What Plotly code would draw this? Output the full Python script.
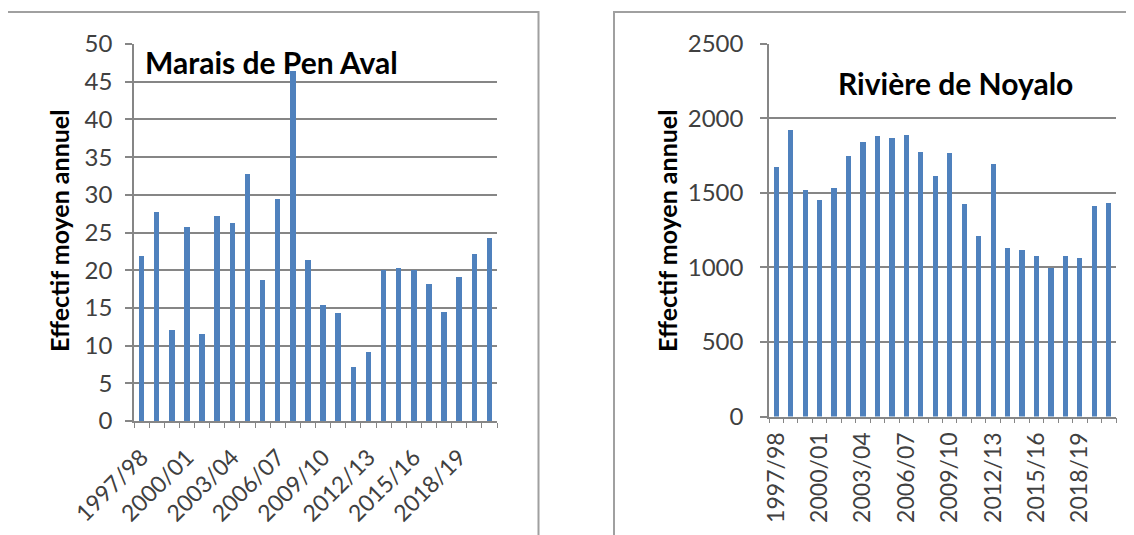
import plotly.graph_objects as go

### DATA ###
seasons = ["1997/98", "1998/99", "1999/00", "2000/01", "2001/02", "2002/03",
           "2003/04", "2004/05", "2005/06", "2006/07", "2007/08", "2008/09",
           "2009/10", "2010/11", "2011/12", "2012/13", "2013/14", "2014/15",
           "2015/16", "2016/17", "2017/18", "2018/19", "2019/20", "2020/21"]

pen_aval = [21.9, 27.7, 12.1, 25.7, 11.5, 27.2, 26.2, 32.8, 18.7, 29.5, 46.4, 21.3,
            15.4, 14.3, 7.1, 9.2, 20.0, 20.3, 20.0, 18.2, 14.4, 19.1, 22.2, 24.3]

noyalo = [1676, 1923, 1522, 1454, 1534, 1747, 1841, 1882, 1870, 1889, 1779, 1614,
          1772, 1426, 1213, 1694, 1133, 1122, 1076, 996, 1081, 1065, 1413, 1435]

label_every = 3
y_title = "Effectif moyen annuel"

### STYLE ###
BAR_COLOR = "#4F81BD"
GRID_COLOR = "#868686"
TICK_FONT_COLOR = "#404040"
FONT = "Lato"
PAGE_OFFSET = 8  # default body margin of the html page
W, H = 1134 - PAGE_OFFSET, 535 - PAGE_OFFSET


# helpers: page pixel -> paper fraction
def px_x(p):
    return (p - PAGE_OFFSET) / W


def px_y(p):
    return 1 - (p - PAGE_OFFSET) / H


positions = list(range(len(seasons)))
tickvals = positions[::label_every]
ticktext = seasons[::label_every]

fig = go.Figure()

fig.add_trace(go.Bar(x=positions, y=pen_aval, marker_color=BAR_COLOR,
                     width=0.36, xaxis="x", yaxis="y", showlegend=False))
fig.add_trace(go.Bar(x=positions, y=noyalo, marker_color=BAR_COLOR,
                     width=0.36, xaxis="x2", yaxis="y2", showlegend=False))

common_x = dict(
    automargin=False,
    range=[-0.5, len(seasons) - 0.5],
    tickmode="array",
    tickvals=tickvals,
    ticktext=ticktext,
    ticks="",
    showgrid=False,
    zeroline=False,
    showline=True,
    linecolor=GRID_COLOR,
    linewidth=1.5,
    minor=dict(ticks="outside", tick0=0.5, dtick=1, ticklen=5,
               tickcolor=GRID_COLOR, tickwidth=1, showgrid=False),
    tickfont=dict(family=FONT, size=23, color=TICK_FONT_COLOR),
)

common_y = dict(
    automargin=False,
    showgrid=True,
    gridcolor=GRID_COLOR,
    gridwidth=1.5,
    zeroline=False,
    showline=True,
    linecolor=GRID_COLOR,
    linewidth=1.5,
    ticks="outside",
    ticklen=7,
    tickcolor=GRID_COLOR,
    tickwidth=1.5,
    tickfont=dict(family=FONT, size=24, color=TICK_FONT_COLOR),
)

fig.update_layout(
    template="none",
    width=W, height=H,
    margin=dict(l=0, r=0, t=0, b=0),
    paper_bgcolor="white",
    plot_bgcolor="white",
    bargap=0,
    xaxis=dict(common_x, domain=[px_x(134), px_x(497)], anchor="y",
               tickangle=-45, ticklabelstandoff=12),
    yaxis=dict(common_y, domain=[px_y(421), px_y(44)], anchor="x",
               range=[0, 50], dtick=5, ticklabelstandoff=8),
    xaxis2=dict(common_x, domain=[px_x(769), px_x(1116)], anchor="y2",
                tickangle=-90, ticklabelstandoff=5),
    yaxis2=dict(common_y, domain=[px_y(416.5), px_y(43.5)], anchor="x2",
                range=[0, 2500], dtick=500, ticklabelstandoff=12),
)

# panel frames
for x0, x1 in [(7, 538.5), (614, 1145)]:
    fig.add_shape(type="rect", xref="paper", yref="paper",
                  x0=px_x(x0), x1=px_x(x1), y0=-0.03, y1=px_y(12),
                  line=dict(color="#A0A0A0", width=2), layer="below")

# panel titles
fig.add_annotation(text="<b>Marais de Pen Aval</b>", xref="paper", yref="paper",
                   x=px_x(143), y=px_y(62), xanchor="left", yanchor="middle",
                   showarrow=False, font=dict(family=FONT, size=30, color="black"))
fig.add_annotation(text="<b>Rivière de Noyalo</b>", xref="paper", yref="paper",
                   x=px_x(955), y=px_y(83), xanchor="center", yanchor="middle",
                   showarrow=False, font=dict(family=FONT, size=30, color="black"))

# y axis titles
for xc in [59, 667]:
    fig.add_annotation(text=f"<b>{y_title}</b>", xref="paper", yref="paper",
                       x=px_x(xc), y=px_y(231), xanchor="center", yanchor="middle",
                       textangle=-90, showarrow=False,
                       font=dict(family=FONT, size=25, color="black"))

fig.write_html("out.html")
